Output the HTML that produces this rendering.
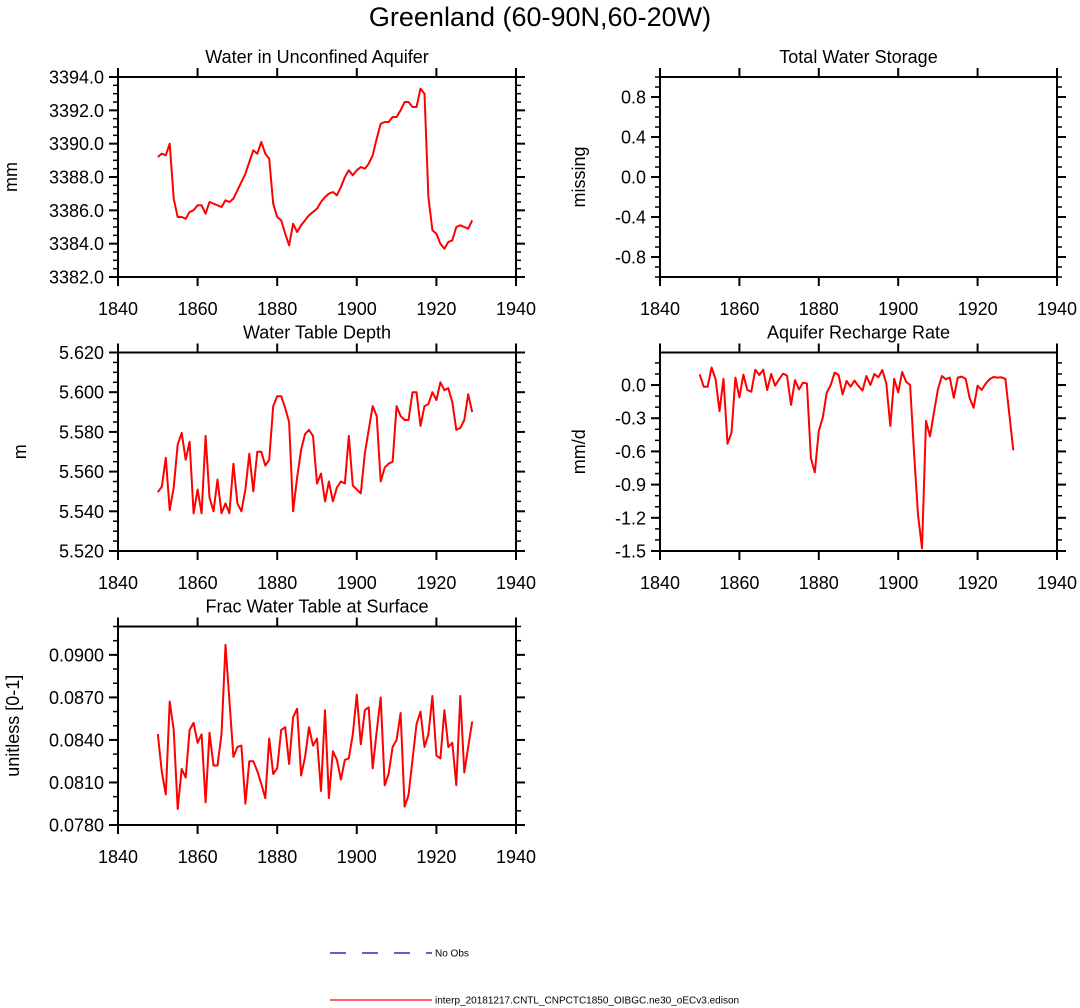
<!DOCTYPE html>
<html><head><meta charset="utf-8"><style>
html,body{margin:0;padding:0;background:#fff;}
svg{display:block;font-family:"Liberation Sans",Arial,sans-serif;}
</style></head><body>
<svg id="chart" width="1080" height="1008" viewBox="0 0 1080 1008" xmlns="http://www.w3.org/2000/svg">
<text x="540" y="26" font-size="27" text-anchor="middle">Greenland (60-90N,60-20W)</text>
<g>
<line x1="330" y1="953" x2="432" y2="953" stroke="#0000cc" stroke-width="1.2" stroke-dasharray="16,16"/>
<text x="435" y="956.5" font-size="10">No Obs</text>
<line x1="330" y1="1000" x2="432" y2="1000" stroke="#ff0000" stroke-width="1.2"/>
<text x="435" y="1003.5" font-size="10">interp_20181217.CNTL_CNPCTC1850_OIBGC.ne30_oECv3.edison</text>
</g>
</svg>
<script>
const years = []; for (let y = 1850; y <= 1929; y++) years.push(y);
const xTicks = [1840, 1860, 1880, 1900, 1920, 1940];
const aquiferValues = [3389.2,3389.4,3389.3,3390.0,3386.7,3385.6,3385.6,3385.5,3385.9,3386.0,3386.3,3386.3,3385.8,3386.5,3386.4,3386.3,3386.2,3386.6,3386.5,3386.7,3387.2,3387.7,3388.2,3388.9,3389.6,3389.4,3390.1,3389.4,3389.1,3386.4,3385.6,3385.4,3384.6,3383.9,3385.2,3384.7,3385.1,3385.4,3385.7,3385.9,3386.1,3386.5,3386.8,3387.0,3387.1,3386.9,3387.4,3388.0,3388.4,3388.1,3388.4,3388.6,3388.5,3388.8,3389.3,3390.3,3391.2,3391.3,3391.3,3391.6,3391.6,3392.0,3392.5,3392.5,3392.2,3392.2,3393.3,3393.0,3386.8,3384.8,3384.6,3384.0,3383.7,3384.1,3384.2,3385.0,3385.1,3385.0,3384.9,3385.4];
const aquiferTicks = ["3382.0","3384.0","3386.0","3388.0","3390.0","3392.0","3394.0"];
const storageTicks = ["-0.8","-0.4","0.0","0.4","0.8"];
const depthValues = [5.5496,5.5524,5.567,5.5406,5.552,5.5737,5.5795,5.566,5.575,5.539,5.551,5.539,5.578,5.547,5.540,5.556,5.539,5.544,5.539,5.564,5.544,5.540,5.551,5.569,5.550,5.570,5.570,5.563,5.566,5.593,5.598,5.598,5.592,5.585,5.540,5.557,5.571,5.579,5.581,5.578,5.554,5.559,5.545,5.555,5.545,5.552,5.555,5.554,5.578,5.553,5.551,5.549,5.569,5.581,5.593,5.588,5.555,5.562,5.564,5.565,5.593,5.588,5.586,5.586,5.600,5.600,5.583,5.593,5.594,5.600,5.596,5.605,5.601,5.602,5.595,5.581,5.582,5.586,5.599,5.590];
const depthTicks = ["5.520","5.540","5.560","5.580","5.600","5.620"];
const rechargeValues = [0.097,-0.015,-0.015,0.158,0.052,-0.236,0.055,-0.53,-0.433,0.067,-0.112,0.094,-0.045,-0.06,0.139,0.091,0.139,-0.045,0.1,-0.006,0.052,0.103,0.085,-0.18,0.045,-0.04,0.02,0.015,-0.66,-0.79,-0.415,-0.294,-0.07,0,0.112,0.091,-0.085,0.036,-0.015,0.04,-0.01,-0.05,0.082,0,0.1,0.07,0.136,0.015,-0.37,0.055,-0.067,0.118,0.03,0,-0.62,-1.17,-1.476,-0.324,-0.464,-0.25,-0.04,0.082,0.052,0.067,-0.115,0.067,0.076,0.055,-0.12,-0.206,-0.006,-0.045,0.01,0.052,0.073,0.067,0.07,0.055,-0.27,-0.59];
const rechargeTicks = ["-1.5","-1.2","-0.9","-0.6","-0.3","0.0"];
const fracValues = [0.08442,0.08176,0.08016,0.08671,0.08471,0.07913,0.08195,0.08134,0.0847,0.0852,0.0838,0.0844,0.0796,0.0845,0.0822,0.0822,0.0844,0.0907,0.0868,0.0828,0.0835,0.0836,0.0795,0.0825,0.0825,0.0818,0.0809,0.0799,0.0841,0.0816,0.082,0.0847,0.0849,0.0823,0.0856,0.0862,0.0815,0.0828,0.0849,0.0836,0.0841,0.0804,0.0861,0.0799,0.0832,0.0826,0.0812,0.0826,0.0827,0.0844,0.0872,0.0837,0.0861,0.0863,0.082,0.0846,0.087,0.0808,0.0816,0.0835,0.084,0.0859,0.0793,0.0801,0.0826,0.0851,0.086,0.0835,0.0844,0.0871,0.0829,0.0827,0.0861,0.0835,0.0838,0.0808,0.0871,0.0817,0.0835,0.0853];
const fracTicks = ["0.0780","0.0810","0.0840","0.0870","0.0900"];

const NS = "http://www.w3.org/2000/svg";
const svg = document.getElementById('chart');
function mk(tag, attrs, parent) {
  const e = document.createElementNS(NS, tag);
  for (const k in attrs) e.setAttribute(k, attrs[k]);
  (parent || svg).appendChild(e);
  return e;
}
const panels = [
  {key:'aquifer', title:'Water in Unconfined Aquifer', yl:'mm', ylx:17, L:118, R:516, T:77, B:277, ymin:3382, ymax:3394, minor:0.5, ticks:aquiferTicks, vals:aquiferValues},
  {key:'storage', title:'Total Water Storage', yl:'missing', ylx:585, L:660, R:1057, T:77, B:277, ymin:-1, ymax:1, minor:0.1, ticks:storageTicks, vals:null},
  {key:'depth', title:'Water Table Depth', yl:'m', ylx:26, L:118, R:516, T:352.5, B:551, ymin:5.52, ymax:5.62, minor:0.005, ticks:depthTicks, vals:depthValues},
  {key:'recharge', title:'Aquifer Recharge Rate', yl:'mm/d', ylx:585, L:660, R:1057, T:352.5, B:551, ymin:-1.5, ymax:0.294, minor:0.1, ticks:rechargeTicks, vals:rechargeValues},
  {key:'frac', title:'Frac Water Table at Surface', yl:'unitless [0-1]', ylx:19, L:118, R:516, T:626.5, B:825, ymin:0.078, ymax:0.092, minor:0.001, ticks:fracTicks, vals:fracValues}
];
panels.forEach(p => {
  const g = mk('g', {});
  
  
  const xs = v => p.L + (v - 1840) / 100 * (p.R - p.L);
  const ys = v => p.B - (v - p.ymin) / (p.ymax - p.ymin) * (p.B - p.T);
  const t = mk('text', {x:(p.L+p.R)/2, y:p.T-14, 'font-size':18, 'text-anchor':'middle'}, g);
  
  
  t.textContent = p.title;
  xTicks.forEach(v => {
    const x = xs(v);
    mk('line', {x1:x, y1:p.B, x2:x, y2:p.B+9, stroke:'#000', 'stroke-width':2}, g);
    mk('line', {x1:x, y1:p.T, x2:x, y2:p.T-9, stroke:'#000', 'stroke-width':2}, g);
    const lb = mk('text', {x:x, y:p.B+38, 'font-size':18, 'text-anchor':'middle'}, g);
    
    
    lb.textContent = v;
  });
  const n = Math.round((p.ymax - p.ymin) / p.minor);
  for (let i = 0; i <= n + 1; i++) {
    const v = p.ymin + i * p.minor;
    if (v > p.ymax + 1e-9) break;
    const y = ys(v);
    mk('line', {x1:p.L, y1:y, x2:p.L-5, y2:y, stroke:'#000', 'stroke-width':1.5}, g);
    mk('line', {x1:p.R, y1:y, x2:p.R+5, y2:y, stroke:'#000', 'stroke-width':1.5}, g);
  }
  p.ticks.forEach(s => {
    const y = ys(parseFloat(s));
    mk('line', {x1:p.L, y1:y, x2:p.L-9, y2:y, stroke:'#000', 'stroke-width':2}, g);
    mk('line', {x1:p.R, y1:y, x2:p.R+9, y2:y, stroke:'#000', 'stroke-width':2}, g);
    const lb = mk('text', {x:p.L-14, y:y+6.5, 'font-size':18, 'text-anchor':'end'}, g);
    
    
    lb.textContent = s;
  });
  const yl = mk('text', {x:0, y:0, 'font-size':18, 'text-anchor':'middle', transform:'translate(' + p.ylx + ',' + ((p.T+p.B)/2) + ') rotate(-90)'}, g);
  
  
  yl.textContent = p.yl;
  if (p.vals) {
    const pts = p.vals.map((v, i) => xs(years[i]).toFixed(1) + ',' + ys(v).toFixed(1)).join(' ');
    const pl = mk('polyline', {points:pts, fill:'none', stroke:'#ff0000', 'stroke-width':2, 'stroke-linejoin':'round'}, g);
    
    
  }
  const fr = mk('rect', {x:p.L, y:p.T, width:p.R-p.L, height:p.B-p.T, fill:'none', stroke:'#000', 'stroke-width':2}, g);
  
  
});
</script>
</body></html>
